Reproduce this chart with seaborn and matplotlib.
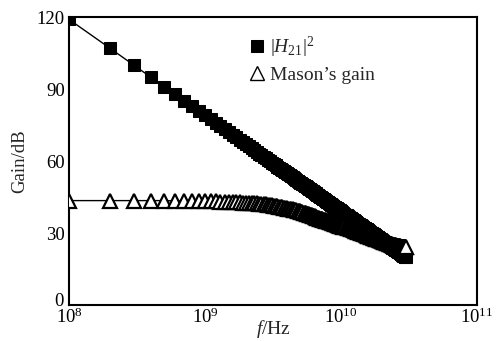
import numpy as np
import pandas as pd
import matplotlib
matplotlib.use("Agg")
import matplotlib.pyplot as plt
import matplotlib.transforms as mtransforms
import seaborn as sns
from matplotlib.ticker import NullLocator, FixedLocator

# ---- data (frequencies in GHz, gains in dB) ----
freq_ghz = [
    0.1, 0.2, 0.3, 0.4, 0.5, 0.6, 0.7, 0.8, 0.9, 1.0,
    1.1, 1.2, 1.3, 1.4, 1.5, 1.6, 1.7, 1.8, 1.9, 2.0,
    2.1, 2.2, 2.3, 2.4, 2.5, 2.6, 2.7, 2.8, 2.9, 3.0,
    3.1, 3.2, 3.3, 3.4, 3.5, 3.6, 3.7, 3.8, 3.9, 4.0,
    4.1, 4.2, 4.3, 4.4, 4.5, 4.6, 4.7, 4.8, 4.9, 5.0,
    5.1, 5.2, 5.3, 5.4, 5.5, 5.6, 5.7, 5.8, 5.9, 6.0,
    6.1, 6.2, 6.3, 6.4, 6.5, 6.6, 6.7, 6.8, 6.9, 7.0,
    7.1, 7.2, 7.3, 7.4, 7.5, 7.6, 7.7, 7.8, 7.9, 8.0,
    8.1, 8.2, 8.3, 8.4, 8.5, 8.6, 8.7, 8.8, 8.9, 9.0,
    9.1, 9.2, 9.3, 9.4, 9.5, 9.6, 9.7, 9.8, 9.9, 10.0,
    10.2, 10.4, 10.6, 10.8, 11.0, 11.2, 11.4, 11.6, 11.8, 12.0,
    12.2, 12.4, 12.6, 12.8, 13.0, 13.2, 13.4, 13.6, 13.8, 14.0,
    14.2, 14.4, 14.6, 14.8, 15.0, 15.2, 15.4, 15.6, 15.8, 16.0,
    16.2, 16.4, 16.6, 16.8, 17.0, 17.2, 17.4, 17.6, 17.8, 18.0,
    18.2, 18.4, 18.6, 18.8, 19.0, 19.2, 19.4, 19.6, 19.8, 20.0,
    20.2, 20.4, 20.6, 20.8, 21.0, 21.2, 21.4, 21.6, 21.8, 22.0,
    22.2, 22.4, 22.6, 22.8, 23.0, 23.2, 23.4, 23.6, 23.8, 24.0,
    24.2, 24.4, 24.6, 24.8, 25.0, 25.2, 25.4, 25.6, 25.8, 26.0,
    26.2, 26.4, 26.6, 26.8, 27.0, 27.2, 27.4, 27.6, 27.8, 28.0,
    28.2, 28.4, 28.6, 28.8, 29.0, 29.2, 29.4, 29.6, 29.8, 30.0,
]

h21_db = [
    119.0, 107.0, 99.9, 94.9, 91.0, 87.9, 85.2, 82.9, 80.8, 79.0,
    77.3, 75.8, 74.4, 73.2, 72.0, 70.8, 69.8, 68.8, 67.8, 67.0,
    66.1, 65.3, 64.5, 63.8, 63.1, 62.4, 61.7, 61.1, 60.5, 59.9,
    59.3, 58.8, 58.3, 57.7, 57.2, 56.7, 56.3, 55.8, 55.4, 54.9,
    54.5, 54.1, 53.7, 53.3, 52.9, 52.5, 52.1, 51.8, 51.4, 51.0,
    50.7, 50.4, 50.0, 49.7, 49.4, 49.1, 48.8, 48.5, 48.2, 47.9,
    47.6, 47.3, 47.0, 46.8, 46.5, 46.2, 46.0, 45.7, 45.5, 45.2,
    45.0, 44.7, 44.5, 44.2, 44.0, 43.8, 43.5, 43.3, 43.1, 42.9,
    42.7, 42.4, 42.2, 42.0, 41.8, 41.6, 41.4, 41.2, 41.0, 40.8,
    40.6, 40.4, 40.3, 40.1, 39.9, 39.7, 39.5, 39.4, 39.2, 39.0,
    38.7, 38.3, 38.0, 37.7, 37.3, 37.0, 36.7, 36.4, 36.1, 35.8,
    35.5, 35.3, 35.0, 34.7, 34.4, 34.2, 33.9, 33.7, 33.4, 33.2,
    32.9, 32.7, 32.4, 32.2, 32.0, 31.7, 31.5, 31.3, 31.1, 30.8,
    30.6, 30.4, 30.2, 30.0, 29.8, 29.6, 29.4, 29.2, 29.0, 28.8,
    28.6, 28.4, 28.2, 28.0, 27.9, 27.7, 27.5, 27.3, 27.1, 27.0,
    26.8, 26.6, 26.4, 26.3, 26.1, 25.9, 25.8, 25.6, 25.5, 25.3,
    25.1, 25.0, 24.8, 24.7, 24.5, 24.4, 24.2, 24.1, 23.9, 23.8,
    23.6, 23.5, 23.4, 23.2, 23.1, 22.9, 22.8, 22.7, 22.5, 22.4,
    22.3, 22.1, 22.0, 21.9, 21.7, 21.6, 21.5, 21.4, 21.2, 21.1,
    21.0, 20.9, 20.7, 20.6, 20.5, 20.4, 20.3, 20.2, 20.0, 19.9,
]

mason_db = [
    43.5, 43.5, 43.5, 43.5, 43.5, 43.4, 43.4, 43.4, 43.3, 43.3,
    43.2, 43.2, 43.1, 43.0, 43.0, 42.9, 42.8, 42.8, 42.7, 42.6,
    42.5, 42.4, 42.3, 42.3, 42.2, 42.1, 42.0, 41.9, 41.8, 41.7,
    41.6, 41.4, 41.3, 41.2, 41.0, 40.9, 40.8, 40.6, 40.5, 40.4,
    40.2, 40.1, 40.0, 39.8, 39.7, 39.5, 39.4, 39.3, 39.1, 39.0,
    38.8, 38.7, 38.5, 38.4, 38.2, 38.1, 37.9, 37.8, 37.6, 37.5,
    37.3, 37.2, 37.0, 36.9, 36.7, 36.6, 36.4, 36.3, 36.1, 36.0,
    35.9, 35.8, 35.7, 35.6, 35.5, 35.4, 35.3, 35.2, 35.1, 35.0,
    34.9, 34.8, 34.7, 34.6, 34.5, 34.4, 34.3, 34.2, 34.1, 34.0,
    33.9, 33.8, 33.7, 33.6, 33.5, 33.4, 33.3, 33.2, 33.1, 33.0,
    32.9, 32.7, 32.6, 32.4, 32.3, 32.2, 32.0, 31.9, 31.7, 31.6,
    31.5, 31.3, 31.2, 31.0, 30.9, 30.8, 30.6, 30.5, 30.3, 30.2,
    30.1, 29.9, 29.8, 29.6, 29.5, 29.4, 29.2, 29.1, 28.9, 28.8,
    28.7, 28.6, 28.5, 28.4, 28.3, 28.2, 28.1, 28.0, 27.9, 27.8,
    27.7, 27.6, 27.5, 27.4, 27.3, 27.2, 27.1, 27.0, 26.9, 26.8,
    26.7, 26.6, 26.5, 26.4, 26.4, 26.3, 26.2, 26.1, 26.0, 26.0,
    25.9, 25.8, 25.7, 25.6, 25.6, 25.5, 25.4, 25.3, 25.2, 25.2,
    25.1, 25.0, 24.9, 24.9, 24.8, 24.8, 24.7, 24.7, 24.6, 24.6,
    24.5, 24.5, 24.5, 24.4, 24.4, 24.4, 24.3, 24.3, 24.3, 24.2,
    24.2, 24.2, 24.2, 24.1, 24.1, 24.1, 24.1, 24.0, 24.0, 24.0,
]

x_ticks = [1e8, 1e9, 1e10, 1e11]
y_ticks = [0, 30, 60, 90, 120]

label_h21 = r"$|H_{21}|^2$"
label_mason = "Mason\u2019s gain"

df = pd.DataFrame({"f": np.array(freq_ghz) * 1e9, "h21": h21_db, "mason": mason_db})

sns.set_style("white")
plt.rcParams["font.family"] = ["Liberation Serif", "DejaVu Serif"]
plt.rcParams["mathtext.fontset"] = "custom"
plt.rcParams["mathtext.rm"] = "Liberation Serif"
plt.rcParams["mathtext.it"] = "Liberation Serif:italic"
plt.rcParams["mathtext.bf"] = "Liberation Serif:bold"

fig = plt.figure(figsize=(5.02, 3.41), dpi=100)
ax = fig.add_axes([69 / 502, 1 - 305 / 341, 408 / 502, 288 / 341])

sns.lineplot(data=df, x="f", y="h21", ax=ax, color="black", lw=1.0,
             marker="s", markersize=8.0, markerfacecolor="black",
             markeredgecolor="black", label=label_h21, zorder=2)
sns.lineplot(data=df, x="f", y="mason", ax=ax, color="black", lw=1.0,
             marker="^", markersize=9.5, markerfacecolor="white",
             markeredgecolor="black", markeredgewidth=1.6,
             label=label_mason, zorder=3)

ax.set_xscale("log")
ax.set_xlim(1e8, 1e11)
ax.set_ylim(0, 120)
ax.xaxis.set_major_locator(FixedLocator(x_ticks))
ax.xaxis.set_minor_locator(NullLocator())
ax.set_yticks(y_ticks)
ax.tick_params(axis="both", which="major", direction="in", length=5, width=1.2,
               labelsize=13.5, colors="black")
ax.tick_params(axis="x", pad=2)
ax.tick_params(axis="y", pad=3)

# nudge the "0" label up slightly as in the reference
fig.canvas.draw()
ylabels = ax.get_yticklabels()
ylabels[0].set_transform(ylabels[0].get_transform() +
                         mtransforms.ScaledTranslation(-1 / 100, 5 / 100, fig.dpi_scale_trans))

for s in ax.spines.values():
    s.set_visible(True)
    s.set_color("black")
    s.set_linewidth(1.5)

ax.set_xlabel(r"$f$/Hz", fontsize=14)
ax.xaxis.set_label_coords(0.502, -0.045)
ax.set_ylabel("Gain/dB", fontsize=13.5)
ax.yaxis.set_label_coords(-0.10, 0.5)

leg = ax.legend(loc="upper left", bbox_to_anchor=(0.418, 0.965), frameon=False,
                fontsize=14, handlelength=1.0, handletextpad=0.15,
                labelspacing=0.3, borderaxespad=0)
for line in leg.get_lines():
    line.set_linestyle("none")
    if line.get_marker() == "^":
        line.set_markeredgewidth(1.0)

fig.savefig("out.png", dpi=100)
